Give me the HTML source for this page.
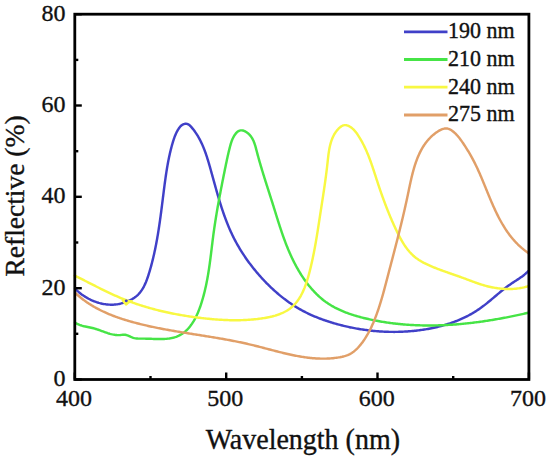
<!DOCTYPE html>
<html><head><meta charset="utf-8"><style>
html,body{margin:0;padding:0;background:#fff;}
body{width:550px;height:458px;position:relative;overflow:hidden;font-family:"Liberation Serif",serif;}
</style></head><body>
<svg width="550" height="458" viewBox="0 0 550 458" style="position:absolute;left:0;top:0">
<path d="M75.13,288.68 L75.96,289.52 L76.81,290.34 L77.68,291.14 L78.58,291.93 L79.50,292.69 L80.44,293.44 L81.40,294.18 L82.38,294.89 L83.37,295.58 L84.39,296.25 L85.42,296.90 L86.47,297.53 L87.53,298.14 L88.60,298.72 L89.69,299.28 L90.80,299.82 L91.91,300.33 L93.03,300.81 L94.17,301.27 L95.31,301.71 L96.46,302.12 L97.62,302.49 L98.79,302.85 L99.96,303.17 L101.14,303.46 L102.32,303.73 L103.51,303.96 L104.70,304.16 L105.89,304.33 L107.08,304.47 L108.27,304.58 L109.47,304.65 L110.66,304.69 L111.84,304.69 L113.03,304.66 L114.21,304.59 L115.39,304.49 L116.56,304.35 L117.73,304.17 L118.88,303.95 L120.04,303.70 L121.18,303.41 L122.32,303.08 L123.45,302.73 L124.58,302.35 L125.71,301.94 L126.83,301.51 L127.95,301.07 L129.06,300.59 L130.16,300.10 L131.24,299.57 L132.30,299.01 L133.33,298.41 L134.32,297.78 L135.28,297.10 L136.19,296.39 L137.06,295.63 L137.90,294.84 L138.70,294.01 L139.47,293.15 L140.20,292.25 L140.90,291.33 L141.57,290.38 L142.22,289.40 L142.83,288.39 L143.42,287.36 L143.98,286.31 L144.52,285.23 L145.04,284.14 L145.53,283.03 L146.01,281.90 L146.46,280.76 L146.90,279.61 L147.32,278.45 L147.73,277.27 L148.13,276.09 L148.51,274.91 L148.89,273.72 L149.25,272.52 L149.61,271.33 L149.96,270.14 L150.30,268.94 L150.64,267.75 L150.97,266.56 L151.29,265.37 L151.61,264.17 L151.92,262.98 L152.22,261.79 L152.52,260.60 L152.82,259.41 L153.11,258.22 L153.39,257.03 L153.67,255.84 L153.94,254.65 L154.21,253.46 L154.47,252.27 L154.72,251.08 L154.98,249.89 L155.22,248.70 L155.47,247.51 L155.71,246.33 L155.94,245.14 L156.17,243.95 L156.39,242.76 L156.62,241.57 L156.83,240.38 L157.05,239.19 L157.26,238.00 L157.46,236.82 L157.67,235.63 L157.87,234.44 L158.06,233.25 L158.26,232.06 L158.45,230.87 L158.63,229.68 L158.82,228.49 L159.00,227.30 L159.18,226.11 L159.35,224.92 L159.53,223.73 L159.70,222.54 L159.87,221.35 L160.04,220.15 L160.20,218.96 L160.37,217.77 L160.53,216.58 L160.69,215.39 L160.85,214.19 L161.01,213.00 L161.16,211.80 L161.32,210.61 L161.47,209.42 L161.63,208.22 L161.78,207.02 L161.93,205.83 L162.08,204.63 L162.23,203.43 L162.38,202.23 L162.53,201.04 L162.68,199.84 L162.83,198.64 L162.98,197.44 L163.13,196.24 L163.28,195.03 L163.43,193.83 L163.59,192.63 L163.74,191.42 L163.89,190.22 L164.04,189.02 L164.20,187.81 L164.35,186.60 L164.51,185.40 L164.67,184.19 L164.83,182.98 L164.99,181.77 L165.16,180.56 L165.33,179.36 L165.50,178.15 L165.67,176.94 L165.84,175.74 L166.02,174.53 L166.20,173.32 L166.39,172.12 L166.58,170.92 L166.77,169.71 L166.97,168.51 L167.17,167.31 L167.38,166.11 L167.59,164.91 L167.80,163.72 L168.02,162.52 L168.25,161.33 L168.48,160.14 L168.72,158.95 L168.96,157.77 L169.21,156.58 L169.46,155.40 L169.72,154.22 L169.99,153.05 L170.27,151.87 L170.55,150.70 L170.84,149.53 L171.14,148.37 L171.44,147.21 L171.75,146.05 L172.07,144.89 L172.40,143.74 L172.74,142.59 L173.08,141.45 L173.44,140.31 L173.81,139.17 L174.20,138.04 L174.60,136.91 L175.04,135.78 L175.50,134.66 L176.00,133.53 L176.54,132.41 L177.12,131.29 L177.74,130.17 L178.42,129.06 L179.14,127.97 L179.94,126.93 L180.79,126.00 L181.72,125.20 L182.72,124.56 L183.77,124.10 L184.85,123.82 L185.93,123.75 L186.99,123.88 L188.02,124.24 L188.98,124.82 L189.90,125.56 L190.77,126.43 L191.61,127.38 L192.42,128.35 L193.21,129.33 L193.97,130.32 L194.71,131.33 L195.42,132.34 L196.12,133.36 L196.79,134.39 L197.44,135.43 L198.07,136.48 L198.69,137.53 L199.28,138.60 L199.86,139.67 L200.41,140.75 L200.95,141.83 L201.48,142.93 L201.99,144.02 L202.48,145.13 L202.96,146.24 L203.43,147.36 L203.88,148.48 L204.33,149.61 L204.76,150.74 L205.17,151.88 L205.58,153.02 L205.98,154.16 L206.37,155.31 L206.75,156.46 L207.13,157.62 L207.49,158.78 L207.85,159.94 L208.20,161.10 L208.55,162.26 L208.90,163.43 L209.24,164.60 L209.57,165.77 L209.91,166.94 L210.24,168.11 L210.57,169.28 L210.90,170.46 L211.22,171.63 L211.55,172.80 L211.88,173.97 L212.20,175.15 L212.53,176.32 L212.85,177.49 L213.17,178.67 L213.50,179.84 L213.82,181.01 L214.14,182.19 L214.47,183.36 L214.79,184.53 L215.12,185.70 L215.44,186.87 L215.77,188.04 L216.10,189.21 L216.43,190.38 L216.76,191.55 L217.10,192.72 L217.43,193.88 L217.77,195.05 L218.11,196.21 L218.45,197.38 L218.80,198.54 L219.14,199.70 L219.49,200.86 L219.85,202.02 L220.21,203.17 L220.57,204.33 L220.93,205.48 L221.30,206.63 L221.67,207.78 L222.04,208.93 L222.42,210.08 L222.81,211.22 L223.20,212.36 L223.59,213.50 L223.99,214.64 L224.39,215.78 L224.80,216.91 L225.22,218.04 L225.64,219.17 L226.06,220.30 L226.49,221.42 L226.93,222.55 L227.38,223.66 L227.83,224.78 L228.28,225.89 L228.75,227.00 L229.22,228.11 L229.70,229.22 L230.18,230.32 L230.67,231.42 L231.17,232.51 L231.68,233.60 L232.20,234.69 L232.72,235.78 L233.25,236.86 L233.80,237.94 L234.34,239.01 L234.90,240.08 L235.47,241.15 L236.04,242.21 L236.62,243.27 L237.21,244.33 L237.81,245.38 L238.41,246.43 L239.03,247.47 L239.65,248.51 L240.27,249.55 L240.91,250.58 L241.55,251.61 L242.20,252.64 L242.86,253.66 L243.53,254.67 L244.20,255.68 L244.88,256.69 L245.56,257.70 L246.25,258.69 L246.95,259.69 L247.66,260.68 L248.37,261.67 L249.09,262.65 L249.82,263.62 L250.55,264.60 L251.29,265.56 L252.04,266.53 L252.79,267.49 L253.55,268.44 L254.31,269.39 L255.08,270.33 L255.86,271.27 L256.64,272.21 L257.43,273.13 L258.22,274.06 L259.02,274.98 L259.83,275.89 L260.64,276.80 L261.46,277.71 L262.28,278.61 L263.11,279.50 L263.94,280.39 L264.78,281.27 L265.62,282.15 L266.47,283.02 L267.32,283.88 L268.18,284.74 L269.05,285.60 L269.92,286.45 L270.79,287.29 L271.67,288.12 L272.56,288.95 L273.45,289.77 L274.35,290.59 L275.25,291.40 L276.16,292.20 L277.08,292.99 L278.00,293.78 L278.92,294.56 L279.85,295.33 L280.79,296.10 L281.73,296.86 L282.68,297.61 L283.63,298.35 L284.59,299.08 L285.56,299.81 L286.53,300.53 L287.50,301.24 L288.48,301.94 L289.47,302.63 L290.46,303.32 L291.46,303.99 L292.46,304.66 L293.47,305.32 L294.49,305.97 L295.51,306.60 L296.53,307.24 L297.56,307.86 L298.60,308.47 L299.64,309.07 L300.69,309.66 L301.75,310.25 L302.81,310.82 L303.87,311.38 L304.94,311.94 L306.02,312.48 L307.10,313.02 L308.19,313.54 L309.28,314.06 L310.37,314.57 L311.47,315.06 L312.58,315.55 L313.69,316.04 L314.80,316.51 L315.92,316.97 L317.04,317.43 L318.17,317.88 L319.29,318.31 L320.43,318.75 L321.56,319.17 L322.70,319.58 L323.85,319.99 L324.99,320.39 L326.14,320.78 L327.29,321.17 L328.45,321.54 L329.61,321.91 L330.77,322.28 L331.93,322.63 L333.09,322.98 L334.26,323.32 L335.43,323.66 L336.60,323.99 L337.77,324.31 L338.95,324.63 L340.12,324.94 L341.30,325.24 L342.48,325.54 L343.66,325.83 L344.84,326.11 L346.03,326.39 L347.21,326.66 L348.40,326.92 L349.58,327.18 L350.77,327.43 L351.96,327.67 L353.15,327.91 L354.35,328.14 L355.54,328.36 L356.74,328.58 L357.93,328.79 L359.13,328.99 L360.33,329.19 L361.53,329.38 L362.73,329.56 L363.93,329.74 L365.13,329.91 L366.33,330.07 L367.53,330.23 L368.74,330.38 L369.94,330.52 L371.15,330.66 L372.36,330.79 L373.56,330.91 L374.77,331.02 L375.98,331.13 L377.19,331.23 L378.39,331.32 L379.60,331.41 L380.81,331.49 L382.02,331.56 L383.23,331.63 L384.44,331.69 L385.66,331.74 L386.87,331.78 L388.08,331.82 L389.29,331.85 L390.50,331.87 L391.71,331.89 L392.92,331.90 L394.13,331.90 L395.35,331.89 L396.56,331.88 L397.77,331.86 L398.98,331.83 L400.19,331.80 L401.40,331.75 L402.61,331.70 L403.82,331.65 L405.03,331.58 L406.24,331.51 L407.45,331.43 L408.66,331.34 L409.86,331.25 L411.07,331.15 L412.28,331.04 L413.48,330.92 L414.69,330.80 L415.89,330.67 L417.10,330.53 L418.30,330.38 L419.50,330.23 L420.71,330.06 L421.91,329.90 L423.11,329.72 L424.30,329.53 L425.50,329.34 L426.70,329.14 L427.89,328.93 L429.08,328.71 L430.28,328.49 L431.47,328.25 L432.65,328.01 L433.84,327.76 L435.02,327.50 L436.20,327.23 L437.38,326.95 L438.56,326.67 L439.73,326.37 L440.90,326.07 L442.07,325.75 L443.23,325.43 L444.40,325.10 L445.55,324.76 L446.71,324.41 L447.86,324.04 L449.01,323.67 L450.15,323.29 L451.30,322.90 L452.43,322.50 L453.57,322.09 L454.70,321.67 L455.82,321.24 L456.94,320.80 L458.06,320.34 L459.17,319.88 L460.28,319.41 L461.38,318.92 L462.48,318.43 L463.57,317.92 L464.66,317.41 L465.74,316.88 L466.81,316.34 L467.89,315.79 L468.95,315.22 L470.01,314.65 L471.07,314.06 L472.11,313.47 L473.16,312.86 L474.19,312.24 L475.22,311.61 L476.25,310.96 L477.26,310.30 L478.27,309.63 L479.28,308.95 L480.27,308.26 L481.27,307.55 L482.25,306.83 L483.23,306.10 L484.20,305.36 L485.16,304.61 L486.12,303.86 L487.08,303.09 L488.03,302.32 L488.98,301.54 L489.93,300.76 L490.87,299.97 L491.81,299.18 L492.75,298.38 L493.69,297.59 L494.63,296.79 L495.57,295.99 L496.50,295.20 L497.44,294.40 L498.38,293.61 L499.32,292.83 L500.26,292.04 L501.20,291.26 L502.15,290.49 L503.10,289.73 L504.05,288.97 L505.01,288.22 L505.97,287.48 L506.94,286.75 L507.91,286.03 L508.89,285.32 L509.87,284.63 L510.86,283.95 L511.86,283.28 L512.86,282.62 L513.86,281.97 L514.87,281.32 L515.88,280.67 L516.88,280.02 L517.88,279.36 L518.88,278.70 L519.87,278.02 L520.86,277.33 L521.84,276.63 L522.81,275.91 L523.77,275.16 L524.72,274.40 L525.65,273.60 L526.57,272.78 L527.48,271.92 L528.36,271.03" fill="none" stroke="#4040c8" stroke-width="2.45" stroke-linejoin="round" stroke-linecap="round"/>
<path d="M75.05,322.53 L76.16,323.23 L77.28,323.85 L78.41,324.39 L79.55,324.87 L80.69,325.28 L81.84,325.65 L83.00,325.97 L84.16,326.26 L85.33,326.52 L86.50,326.77 L87.67,327.00 L88.85,327.23 L90.03,327.47 L91.21,327.72 L92.39,327.99 L93.56,328.29 L94.74,328.63 L95.92,328.99 L97.09,329.37 L98.27,329.77 L99.45,330.18 L100.62,330.61 L101.79,331.04 L102.97,331.46 L104.14,331.89 L105.31,332.31 L106.48,332.71 L107.65,333.10 L108.83,333.46 L110.00,333.81 L111.17,334.12 L112.34,334.39 L113.51,334.63 L114.68,334.83 L115.85,334.98 L117.02,335.07 L118.19,335.11 L119.36,335.10 L120.53,335.01 L121.70,334.88 L122.87,334.76 L124.03,334.72 L125.18,334.82 L126.33,335.07 L127.48,335.44 L128.64,335.91 L129.80,336.42 L130.95,336.94 L132.10,337.42 L133.24,337.82 L134.37,338.13 L135.50,338.35 L136.63,338.49 L137.76,338.58 L138.89,338.63 L140.04,338.64 L141.20,338.64 L142.37,338.63 L143.57,338.63 L144.79,338.65 L146.02,338.68 L147.27,338.71 L148.54,338.75 L149.81,338.80 L151.10,338.84 L152.40,338.89 L153.70,338.93 L155.01,338.97 L156.32,339.00 L157.64,339.03 L158.95,339.04 L160.26,339.04 L161.56,339.02 L162.86,338.98 L164.16,338.93 L165.44,338.85 L166.71,338.75 L167.96,338.62 L169.20,338.46 L170.43,338.27 L171.63,338.05 L172.81,337.80 L173.97,337.50 L175.10,337.17 L176.21,336.80 L177.29,336.38 L178.34,335.92 L179.37,335.42 L180.37,334.89 L181.35,334.31 L182.30,333.70 L183.22,333.05 L184.12,332.37 L185.00,331.65 L185.85,330.91 L186.68,330.13 L187.49,329.32 L188.27,328.48 L189.03,327.61 L189.78,326.72 L190.50,325.80 L191.20,324.85 L191.88,323.89 L192.54,322.89 L193.18,321.88 L193.81,320.85 L194.41,319.80 L195.00,318.72 L195.57,317.64 L196.12,316.53 L196.66,315.41 L197.18,314.28 L197.69,313.13 L198.18,311.97 L198.66,310.80 L199.12,309.63 L199.57,308.44 L200.00,307.24 L200.42,306.04 L200.83,304.83 L201.23,303.62 L201.62,302.41 L201.99,301.19 L202.36,299.97 L202.71,298.76 L203.05,297.54 L203.39,296.32 L203.72,295.11 L204.03,293.90 L204.34,292.69 L204.64,291.48 L204.93,290.27 L205.22,289.06 L205.49,287.85 L205.76,286.65 L206.02,285.44 L206.27,284.24 L206.52,283.04 L206.76,281.83 L206.99,280.63 L207.22,279.43 L207.44,278.23 L207.65,277.03 L207.86,275.84 L208.07,274.64 L208.27,273.44 L208.46,272.25 L208.65,271.05 L208.84,269.85 L209.02,268.66 L209.19,267.46 L209.37,266.27 L209.54,265.07 L209.71,263.88 L209.87,262.69 L210.03,261.49 L210.19,260.30 L210.34,259.10 L210.50,257.91 L210.65,256.72 L210.80,255.52 L210.95,254.33 L211.10,253.13 L211.24,251.94 L211.39,250.74 L211.54,249.55 L211.68,248.35 L211.83,247.16 L211.97,245.96 L212.12,244.76 L212.27,243.56 L212.41,242.37 L212.56,241.17 L212.71,239.97 L212.86,238.77 L213.02,237.56 L213.17,236.36 L213.33,235.16 L213.49,233.96 L213.65,232.75 L213.82,231.54 L213.99,230.34 L214.16,229.13 L214.33,227.92 L214.51,226.71 L214.69,225.50 L214.87,224.29 L215.06,223.08 L215.24,221.87 L215.43,220.65 L215.62,219.44 L215.82,218.23 L216.01,217.01 L216.21,215.80 L216.41,214.58 L216.61,213.37 L216.82,212.15 L217.02,210.94 L217.23,209.72 L217.44,208.51 L217.65,207.29 L217.87,206.07 L218.08,204.86 L218.30,203.64 L218.52,202.43 L218.74,201.21 L218.96,199.99 L219.19,198.78 L219.41,197.56 L219.64,196.35 L219.86,195.14 L220.09,193.92 L220.32,192.71 L220.55,191.50 L220.79,190.28 L221.02,189.07 L221.25,187.86 L221.49,186.65 L221.72,185.44 L221.96,184.23 L222.20,183.02 L222.44,181.82 L222.68,180.61 L222.92,179.41 L223.16,178.20 L223.40,177.00 L223.64,175.80 L223.88,174.60 L224.12,173.40 L224.37,172.20 L224.61,171.00 L224.85,169.80 L225.09,168.61 L225.34,167.42 L225.58,166.23 L225.83,165.04 L226.07,163.85 L226.32,162.66 L226.57,161.48 L226.82,160.29 L227.07,159.11 L227.32,157.93 L227.58,156.75 L227.85,155.58 L228.11,154.41 L228.38,153.23 L228.66,152.06 L228.94,150.90 L229.22,149.73 L229.52,148.57 L229.81,147.41 L230.12,146.25 L230.43,145.10 L230.76,143.94 L231.11,142.79 L231.49,141.64 L231.91,140.50 L232.37,139.35 L232.90,138.21 L233.48,137.06 L234.13,135.92 L234.87,134.78 L235.68,133.66 L236.57,132.63 L237.53,131.74 L238.54,131.05 L239.59,130.60 L240.68,130.39 L241.79,130.37 L242.91,130.54 L244.02,130.88 L245.12,131.36 L246.19,131.96 L247.22,132.67 L248.20,133.46 L249.11,134.31 L249.95,135.21 L250.72,136.15 L251.42,137.13 L252.07,138.14 L252.65,139.19 L253.19,140.26 L253.69,141.37 L254.14,142.49 L254.56,143.64 L254.94,144.80 L255.30,145.97 L255.65,147.16 L255.97,148.36 L256.29,149.56 L256.61,150.77 L256.92,151.97 L257.24,153.17 L257.56,154.38 L257.88,155.57 L258.21,156.77 L258.54,157.97 L258.87,159.16 L259.21,160.35 L259.55,161.54 L259.89,162.73 L260.23,163.92 L260.58,165.10 L260.93,166.29 L261.28,167.47 L261.63,168.65 L261.98,169.83 L262.34,171.01 L262.70,172.18 L263.06,173.36 L263.42,174.53 L263.79,175.71 L264.15,176.88 L264.52,178.05 L264.88,179.22 L265.25,180.39 L265.62,181.56 L265.99,182.73 L266.36,183.89 L266.73,185.06 L267.10,186.22 L267.48,187.39 L267.85,188.55 L268.22,189.71 L268.59,190.88 L268.97,192.04 L269.34,193.20 L269.71,194.36 L270.08,195.52 L270.45,196.68 L270.82,197.84 L271.19,199.00 L271.56,200.16 L271.93,201.32 L272.29,202.48 L272.66,203.64 L273.02,204.80 L273.39,205.96 L273.75,207.12 L274.11,208.28 L274.47,209.44 L274.83,210.60 L275.19,211.76 L275.55,212.92 L275.91,214.08 L276.27,215.24 L276.63,216.40 L276.99,217.55 L277.35,218.71 L277.72,219.87 L278.08,221.02 L278.45,222.18 L278.82,223.33 L279.19,224.49 L279.56,225.64 L279.94,226.79 L280.32,227.94 L280.70,229.09 L281.08,230.24 L281.47,231.39 L281.86,232.54 L282.26,233.68 L282.65,234.83 L283.06,235.97 L283.46,237.12 L283.87,238.26 L284.29,239.40 L284.71,240.54 L285.14,241.67 L285.57,242.81 L286.00,243.94 L286.44,245.07 L286.89,246.21 L287.35,247.33 L287.81,248.46 L288.27,249.59 L288.75,250.71 L289.23,251.83 L289.72,252.95 L290.21,254.07 L290.71,255.19 L291.22,256.30 L291.74,257.41 L292.27,258.52 L292.80,259.63 L293.34,260.74 L293.90,261.84 L294.46,262.94 L295.03,264.04 L295.60,265.13 L296.19,266.22 L296.79,267.31 L297.39,268.40 L298.01,269.48 L298.63,270.55 L299.27,271.62 L299.91,272.69 L300.56,273.75 L301.23,274.80 L301.90,275.85 L302.58,276.89 L303.27,277.92 L303.97,278.94 L304.68,279.96 L305.40,280.97 L306.13,281.97 L306.87,282.97 L307.62,283.95 L308.38,284.92 L309.15,285.89 L309.93,286.84 L310.72,287.79 L311.52,288.72 L312.33,289.64 L313.15,290.55 L313.99,291.45 L314.83,292.33 L315.68,293.21 L316.54,294.07 L317.41,294.91 L318.30,295.75 L319.19,296.57 L320.10,297.37 L321.01,298.16 L321.94,298.94 L322.88,299.70 L323.82,300.45 L324.78,301.17 L325.75,301.89 L326.73,302.58 L327.72,303.26 L328.73,303.93 L329.74,304.57 L330.76,305.20 L331.79,305.82 L332.84,306.42 L333.89,307.00 L334.95,307.58 L336.02,308.13 L337.09,308.67 L338.18,309.20 L339.27,309.72 L340.37,310.22 L341.48,310.71 L342.60,311.18 L343.72,311.65 L344.85,312.10 L345.98,312.54 L347.12,312.97 L348.27,313.39 L349.42,313.79 L350.58,314.19 L351.74,314.58 L352.90,314.95 L354.07,315.32 L355.25,315.68 L356.43,316.02 L357.61,316.36 L358.79,316.69 L359.98,317.02 L361.17,317.33 L362.36,317.64 L363.55,317.94 L364.75,318.23 L365.95,318.52 L367.15,318.80 L368.35,319.07 L369.55,319.34 L370.75,319.60 L371.95,319.85 L373.16,320.10 L374.36,320.34 L375.57,320.58 L376.77,320.81 L377.98,321.03 L379.19,321.25 L380.40,321.46 L381.61,321.67 L382.82,321.87 L384.03,322.06 L385.24,322.25 L386.45,322.44 L387.67,322.61 L388.88,322.79 L390.10,322.95 L391.31,323.11 L392.53,323.27 L393.74,323.42 L394.96,323.56 L396.18,323.70 L397.39,323.83 L398.61,323.96 L399.83,324.08 L401.05,324.20 L402.27,324.31 L403.49,324.41 L404.70,324.51 L405.92,324.61 L407.14,324.70 L408.36,324.78 L409.58,324.86 L410.80,324.94 L412.02,325.01 L413.24,325.07 L414.46,325.13 L415.68,325.19 L416.90,325.24 L418.12,325.28 L419.34,325.32 L420.56,325.36 L421.78,325.39 L423.00,325.41 L424.22,325.43 L425.44,325.45 L426.67,325.46 L427.89,325.47 L429.11,325.47 L430.33,325.47 L431.55,325.46 L432.77,325.45 L433.99,325.43 L435.21,325.41 L436.43,325.39 L437.65,325.36 L438.87,325.32 L440.08,325.29 L441.30,325.24 L442.52,325.20 L443.74,325.15 L444.96,325.09 L446.18,325.03 L447.40,324.97 L448.62,324.90 L449.84,324.83 L451.06,324.75 L452.27,324.67 L453.49,324.59 L454.71,324.50 L455.93,324.41 L457.14,324.31 L458.36,324.21 L459.58,324.11 L460.79,324.00 L462.01,323.89 L463.23,323.77 L464.44,323.65 L465.66,323.53 L466.87,323.40 L468.09,323.27 L469.30,323.14 L470.52,323.00 L471.73,322.86 L472.95,322.71 L474.16,322.57 L475.37,322.41 L476.59,322.26 L477.80,322.10 L479.01,321.94 L480.22,321.77 L481.44,321.60 L482.65,321.43 L483.86,321.26 L485.07,321.08 L486.28,320.90 L487.49,320.71 L488.70,320.52 L489.91,320.33 L491.11,320.14 L492.32,319.94 L493.53,319.74 L494.74,319.54 L495.94,319.33 L497.15,319.12 L498.36,318.91 L499.56,318.69 L500.77,318.48 L501.97,318.25 L503.17,318.03 L504.38,317.80 L505.58,317.58 L506.78,317.34 L507.98,317.11 L509.18,316.87 L510.38,316.63 L511.59,316.39 L512.78,316.14 L513.98,315.90 L515.18,315.65 L516.38,315.39 L517.58,315.14 L518.77,314.88 L519.97,314.62 L521.16,314.36 L522.36,314.10 L523.55,313.83 L524.75,313.56 L525.94,313.29 L527.13,313.02 L528.32,312.74" fill="none" stroke="#46e446" stroke-width="2.45" stroke-linejoin="round" stroke-linecap="round"/>
<path d="M74.64,275.68 L75.67,276.17 L76.70,276.67 L77.73,277.17 L78.75,277.67 L79.78,278.18 L80.81,278.69 L81.84,279.20 L82.87,279.71 L83.89,280.22 L84.92,280.74 L85.95,281.26 L86.98,281.78 L88.01,282.30 L89.03,282.82 L90.06,283.34 L91.09,283.86 L92.12,284.38 L93.15,284.91 L94.18,285.43 L95.22,285.95 L96.25,286.47 L97.28,286.99 L98.32,287.51 L99.35,288.03 L100.39,288.55 L101.42,289.06 L102.46,289.58 L103.50,290.09 L104.54,290.60 L105.58,291.10 L106.63,291.61 L107.67,292.11 L108.72,292.61 L109.77,293.10 L110.82,293.60 L111.87,294.08 L112.92,294.57 L113.97,295.05 L115.03,295.52 L116.09,295.99 L117.15,296.46 L118.21,296.92 L119.27,297.38 L120.34,297.83 L121.41,298.28 L122.48,298.72 L123.55,299.15 L124.63,299.58 L125.70,300.01 L126.78,300.43 L127.86,300.84 L128.95,301.25 L130.03,301.65 L131.12,302.05 L132.20,302.44 L133.29,302.83 L134.39,303.22 L135.48,303.60 L136.57,303.97 L137.67,304.34 L138.77,304.70 L139.87,305.06 L140.97,305.41 L142.08,305.76 L143.18,306.11 L144.29,306.45 L145.40,306.78 L146.51,307.11 L147.62,307.44 L148.73,307.76 L149.84,308.07 L150.96,308.39 L152.08,308.69 L153.19,308.99 L154.31,309.29 L155.43,309.59 L156.56,309.87 L157.68,310.16 L158.80,310.44 L159.93,310.71 L161.05,310.99 L162.18,311.25 L163.31,311.52 L164.44,311.77 L165.57,312.03 L166.70,312.28 L167.84,312.52 L168.97,312.77 L170.10,313.00 L171.24,313.24 L172.38,313.47 L173.51,313.69 L174.65,313.91 L175.79,314.13 L176.93,314.35 L178.07,314.55 L179.21,314.76 L180.35,314.96 L181.49,315.16 L182.64,315.35 L183.78,315.55 L184.92,315.73 L186.07,315.91 L187.21,316.09 L188.36,316.27 L189.50,316.44 L190.65,316.61 L191.80,316.77 L192.94,316.94 L194.09,317.09 L195.24,317.25 L196.39,317.40 L197.53,317.55 L198.68,317.69 L199.83,317.83 L200.98,317.97 L202.13,318.10 L203.28,318.23 L204.43,318.36 L205.58,318.48 L206.72,318.61 L207.87,318.72 L209.02,318.84 L210.17,318.95 L211.32,319.05 L212.47,319.16 L213.62,319.26 L214.77,319.35 L215.92,319.44 L217.07,319.53 L218.22,319.61 L219.38,319.69 L220.53,319.76 L221.68,319.83 L222.83,319.89 L223.99,319.95 L225.14,320.00 L226.30,320.05 L227.45,320.09 L228.61,320.13 L229.77,320.16 L230.92,320.19 L232.08,320.21 L233.24,320.22 L234.40,320.23 L235.56,320.23 L236.73,320.23 L237.89,320.22 L239.05,320.20 L240.22,320.18 L241.38,320.15 L242.55,320.11 L243.72,320.06 L244.89,320.01 L246.06,319.96 L247.23,319.89 L248.40,319.82 L249.58,319.74 L250.75,319.65 L251.93,319.56 L253.11,319.45 L254.29,319.34 L255.47,319.22 L256.65,319.10 L257.83,318.96 L259.02,318.82 L260.21,318.66 L261.39,318.50 L262.57,318.33 L263.76,318.14 L264.94,317.95 L266.11,317.74 L267.28,317.52 L268.45,317.28 L269.61,317.04 L270.76,316.77 L271.91,316.50 L273.05,316.20 L274.18,315.89 L275.30,315.57 L276.41,315.22 L277.50,314.86 L278.59,314.48 L279.66,314.08 L280.72,313.66 L281.77,313.22 L282.80,312.76 L283.81,312.28 L284.80,311.78 L285.78,311.25 L286.74,310.70 L287.69,310.12 L288.61,309.52 L289.51,308.90 L290.39,308.25 L291.24,307.57 L292.08,306.87 L292.89,306.14 L293.68,305.38 L294.44,304.60 L295.18,303.79 L295.90,302.96 L296.60,302.10 L297.27,301.23 L297.93,300.33 L298.57,299.40 L299.19,298.46 L299.78,297.50 L300.36,296.52 L300.93,295.52 L301.47,294.51 L302.00,293.48 L302.51,292.44 L303.01,291.38 L303.49,290.30 L303.95,289.22 L304.41,288.12 L304.84,287.01 L305.27,285.89 L305.68,284.76 L306.08,283.63 L306.47,282.48 L306.85,281.33 L307.21,280.18 L307.57,279.01 L307.92,277.85 L308.26,276.68 L308.58,275.50 L308.91,274.33 L309.22,273.15 L309.53,271.98 L309.83,270.80 L310.12,269.63 L310.41,268.46 L310.69,267.29 L310.97,266.12 L311.24,264.96 L311.51,263.80 L311.78,262.64 L312.03,261.48 L312.29,260.32 L312.54,259.17 L312.78,258.01 L313.02,256.86 L313.26,255.71 L313.49,254.57 L313.72,253.42 L313.95,252.28 L314.17,251.13 L314.39,249.99 L314.60,248.85 L314.82,247.71 L315.03,246.58 L315.23,245.44 L315.43,244.30 L315.63,243.17 L315.83,242.04 L316.03,240.90 L316.22,239.77 L316.41,238.64 L316.60,237.51 L316.79,236.38 L316.97,235.26 L317.15,234.13 L317.34,233.00 L317.52,231.87 L317.69,230.75 L317.87,229.62 L318.05,228.49 L318.22,227.37 L318.40,226.24 L318.57,225.12 L318.75,223.99 L318.92,222.87 L319.09,221.74 L319.26,220.62 L319.44,219.49 L319.61,218.36 L319.78,217.24 L319.95,216.11 L320.13,214.98 L320.30,213.86 L320.47,212.73 L320.65,211.60 L320.82,210.47 L321.00,209.34 L321.18,208.21 L321.35,207.08 L321.53,205.94 L321.71,204.81 L321.88,203.68 L322.06,202.54 L322.23,201.40 L322.41,200.27 L322.59,199.13 L322.76,197.99 L322.94,196.85 L323.11,195.70 L323.28,194.56 L323.46,193.42 L323.63,192.27 L323.80,191.12 L323.97,189.97 L324.14,188.82 L324.31,187.67 L324.48,186.51 L324.65,185.36 L324.81,184.20 L324.98,183.04 L325.14,181.88 L325.30,180.72 L325.46,179.55 L325.62,178.39 L325.78,177.22 L325.93,176.05 L326.08,174.87 L326.24,173.70 L326.38,172.52 L326.53,171.34 L326.68,170.16 L326.82,168.97 L326.96,167.79 L327.10,166.60 L327.23,165.40 L327.37,164.21 L327.50,163.01 L327.63,161.81 L327.76,160.61 L327.89,159.41 L328.03,158.22 L328.16,157.02 L328.31,155.82 L328.46,154.63 L328.62,153.44 L328.79,152.26 L328.98,151.08 L329.17,149.91 L329.38,148.75 L329.61,147.60 L329.85,146.45 L330.12,145.32 L330.40,144.19 L330.70,143.08 L331.03,141.98 L331.38,140.90 L331.76,139.82 L332.16,138.77 L332.60,137.73 L333.06,136.70 L333.55,135.70 L334.08,134.71 L334.65,133.74 L335.24,132.80 L335.88,131.87 L336.55,130.97 L337.27,130.09 L338.02,129.23 L338.82,128.40 L339.67,127.60 L340.55,126.87 L341.48,126.23 L342.45,125.71 L343.46,125.33 L344.51,125.13 L345.60,125.13 L346.72,125.32 L347.85,125.68 L348.95,126.16 L350.00,126.73 L351.00,127.38 L351.94,128.09 L352.84,128.85 L353.69,129.67 L354.51,130.53 L355.28,131.44 L356.02,132.37 L356.73,133.33 L357.42,134.31 L358.08,135.31 L358.73,136.31 L359.36,137.32 L359.98,138.34 L360.58,139.35 L361.17,140.37 L361.75,141.40 L362.31,142.43 L362.86,143.47 L363.39,144.50 L363.92,145.55 L364.43,146.59 L364.93,147.64 L365.42,148.69 L365.91,149.75 L366.38,150.80 L366.84,151.87 L367.29,152.93 L367.74,154.00 L368.17,155.07 L368.60,156.14 L369.02,157.21 L369.43,158.29 L369.84,159.37 L370.24,160.45 L370.63,161.53 L371.02,162.62 L371.41,163.71 L371.78,164.80 L372.16,165.89 L372.53,166.98 L372.90,168.07 L373.26,169.16 L373.63,170.26 L373.99,171.35 L374.34,172.45 L374.70,173.55 L375.06,174.64 L375.41,175.74 L375.77,176.84 L376.12,177.94 L376.48,179.04 L376.84,180.14 L377.20,181.24 L377.56,182.34 L377.92,183.43 L378.29,184.53 L378.65,185.63 L379.02,186.73 L379.39,187.82 L379.77,188.92 L380.14,190.02 L380.52,191.11 L380.90,192.21 L381.29,193.30 L381.67,194.39 L382.06,195.49 L382.45,196.58 L382.84,197.67 L383.24,198.76 L383.64,199.85 L384.04,200.94 L384.45,202.03 L384.86,203.12 L385.27,204.21 L385.68,205.30 L386.10,206.38 L386.52,207.47 L386.95,208.55 L387.37,209.63 L387.80,210.72 L388.24,211.80 L388.68,212.88 L389.12,213.96 L389.56,215.03 L390.01,216.11 L390.46,217.19 L390.92,218.26 L391.38,219.33 L391.84,220.40 L392.31,221.47 L392.78,222.54 L393.26,223.61 L393.74,224.68 L394.22,225.74 L394.71,226.81 L395.21,227.87 L395.70,228.93 L396.21,229.99 L396.71,231.05 L397.22,232.10 L397.74,233.16 L398.26,234.20 L398.79,235.25 L399.33,236.29 L399.87,237.33 L400.42,238.36 L400.99,239.38 L401.56,240.39 L402.14,241.40 L402.73,242.39 L403.34,243.38 L403.96,244.36 L404.59,245.32 L405.23,246.27 L405.89,247.21 L406.57,248.14 L407.25,249.05 L407.96,249.95 L408.68,250.83 L409.42,251.70 L410.18,252.54 L410.96,253.37 L411.75,254.19 L412.57,254.98 L413.41,255.75 L414.27,256.50 L415.15,257.23 L416.05,257.94 L416.97,258.62 L417.92,259.29 L418.88,259.94 L419.86,260.56 L420.86,261.17 L421.88,261.76 L422.90,262.33 L423.94,262.89 L425.00,263.43 L426.06,263.96 L427.13,264.47 L428.21,264.97 L429.29,265.46 L430.39,265.94 L431.48,266.40 L432.58,266.86 L433.68,267.31 L434.78,267.75 L435.88,268.18 L436.98,268.61 L438.08,269.03 L439.17,269.44 L440.27,269.85 L441.36,270.25 L442.45,270.65 L443.55,271.05 L444.64,271.44 L445.72,271.82 L446.81,272.21 L447.90,272.59 L448.98,272.97 L450.07,273.35 L451.15,273.73 L452.24,274.10 L453.32,274.48 L454.40,274.86 L455.48,275.23 L456.56,275.61 L457.64,275.99 L458.72,276.37 L459.80,276.75 L460.87,277.14 L461.95,277.53 L463.03,277.92 L464.11,278.31 L465.18,278.71 L466.26,279.12 L467.33,279.53 L468.41,279.94 L469.49,280.35 L470.57,280.76 L471.65,281.16 L472.73,281.57 L473.81,281.97 L474.90,282.37 L475.99,282.77 L477.08,283.15 L478.18,283.53 L479.28,283.90 L480.38,284.26 L481.49,284.61 L482.61,284.95 L483.73,285.28 L484.85,285.59 L485.98,285.90 L487.11,286.19 L488.24,286.47 L489.37,286.73 L490.51,286.99 L491.66,287.23 L492.80,287.45 L493.95,287.67 L495.10,287.87 L496.25,288.05 L497.40,288.22 L498.55,288.37 L499.71,288.51 L500.86,288.63 L502.02,288.74 L503.18,288.83 L504.34,288.91 L505.50,288.96 L506.65,289.00 L507.81,289.02 L508.97,289.03 L510.13,289.02 L511.28,288.99 L512.44,288.93 L513.59,288.87 L514.75,288.78 L515.90,288.67 L517.05,288.54 L518.20,288.39 L519.34,288.23 L520.48,288.04 L521.62,287.83 L522.76,287.60 L523.90,287.35 L525.03,287.07 L526.15,286.77 L527.28,286.46 L528.40,286.11" fill="none" stroke="#f8f842" stroke-width="2.45" stroke-linejoin="round" stroke-linecap="round"/>
<path d="M75.22,292.92 L76.09,293.72 L76.96,294.51 L77.84,295.29 L78.73,296.05 L79.63,296.81 L80.53,297.55 L81.45,298.28 L82.37,298.99 L83.29,299.70 L84.22,300.39 L85.16,301.07 L86.11,301.74 L87.06,302.40 L88.02,303.04 L88.99,303.68 L89.96,304.30 L90.94,304.91 L91.92,305.52 L92.91,306.11 L93.90,306.69 L94.90,307.26 L95.91,307.82 L96.92,308.38 L97.94,308.92 L98.96,309.45 L99.98,309.97 L101.01,310.49 L102.05,310.99 L103.09,311.49 L104.13,311.97 L105.18,312.45 L106.23,312.92 L107.29,313.38 L108.35,313.84 L109.42,314.28 L110.49,314.72 L111.56,315.15 L112.63,315.57 L113.71,315.98 L114.79,316.39 L115.88,316.79 L116.96,317.18 L118.05,317.57 L119.15,317.95 L120.24,318.32 L121.34,318.69 L122.44,319.05 L123.55,319.40 L124.65,319.75 L125.76,320.09 L126.87,320.43 L127.98,320.76 L129.09,321.08 L130.20,321.40 L131.32,321.72 L132.43,322.03 L133.55,322.34 L134.67,322.64 L135.79,322.93 L136.91,323.23 L138.03,323.52 L139.15,323.80 L140.27,324.08 L141.39,324.36 L142.51,324.63 L143.64,324.90 L144.76,325.16 L145.89,325.42 L147.01,325.68 L148.14,325.94 L149.27,326.19 L150.39,326.43 L151.52,326.68 L152.65,326.92 L153.78,327.16 L154.91,327.39 L156.04,327.63 L157.17,327.85 L158.30,328.08 L159.43,328.31 L160.57,328.53 L161.70,328.75 L162.83,328.96 L163.96,329.18 L165.10,329.39 L166.23,329.60 L167.37,329.80 L168.50,330.01 L169.64,330.21 L170.77,330.42 L171.91,330.62 L173.05,330.81 L174.18,331.01 L175.32,331.20 L176.46,331.40 L177.60,331.59 L178.74,331.78 L179.87,331.97 L181.01,332.16 L182.15,332.35 L183.29,332.53 L184.43,332.72 L185.57,332.90 L186.71,333.08 L187.85,333.27 L188.99,333.45 L190.13,333.63 L191.27,333.81 L192.41,333.99 L193.55,334.17 L194.69,334.36 L195.83,334.54 L196.98,334.72 L198.12,334.90 L199.26,335.08 L200.40,335.26 L201.54,335.44 L202.68,335.62 L203.82,335.80 L204.96,335.98 L206.11,336.17 L207.25,336.35 L208.39,336.53 L209.53,336.72 L210.67,336.90 L211.81,337.09 L212.95,337.28 L214.09,337.47 L215.24,337.66 L216.38,337.85 L217.52,338.04 L218.66,338.24 L219.80,338.43 L220.94,338.63 L222.08,338.83 L223.22,339.03 L224.36,339.24 L225.50,339.44 L226.64,339.65 L227.78,339.86 L228.91,340.07 L230.05,340.28 L231.19,340.50 L232.33,340.71 L233.47,340.94 L234.60,341.16 L235.74,341.38 L236.88,341.61 L238.01,341.84 L239.15,342.08 L240.29,342.32 L241.42,342.56 L242.56,342.80 L243.69,343.05 L244.82,343.30 L245.96,343.55 L247.09,343.81 L248.22,344.07 L249.36,344.33 L250.49,344.60 L251.62,344.87 L252.75,345.15 L253.88,345.42 L255.01,345.70 L256.14,345.99 L257.27,346.27 L258.40,346.56 L259.53,346.85 L260.66,347.14 L261.78,347.44 L262.91,347.73 L264.04,348.03 L265.17,348.32 L266.29,348.62 L267.42,348.91 L268.55,349.21 L269.67,349.51 L270.80,349.80 L271.92,350.10 L273.05,350.39 L274.18,350.68 L275.30,350.98 L276.43,351.26 L277.55,351.55 L278.68,351.84 L279.80,352.12 L280.93,352.40 L282.06,352.68 L283.18,352.95 L284.31,353.22 L285.43,353.49 L286.56,353.75 L287.69,354.01 L288.81,354.26 L289.94,354.51 L291.07,354.76 L292.19,355.00 L293.32,355.23 L294.45,355.46 L295.57,355.68 L296.70,355.90 L297.83,356.11 L298.96,356.32 L300.09,356.51 L301.22,356.70 L302.35,356.88 L303.48,357.06 L304.61,357.23 L305.74,357.39 L306.87,357.54 L308.00,357.68 L309.13,357.81 L310.27,357.94 L311.40,358.05 L312.53,358.16 L313.67,358.25 L314.80,358.34 L315.94,358.42 L317.08,358.48 L318.21,358.54 L319.35,358.58 L320.49,358.61 L321.63,358.63 L322.77,358.64 L323.91,358.64 L325.05,358.63 L326.19,358.60 L327.33,358.56 L328.48,358.51 L329.62,358.44 L330.77,358.36 L331.91,358.27 L333.06,358.16 L334.21,358.04 L335.36,357.90 L336.51,357.75 L337.66,357.59 L338.81,357.41 L339.96,357.21 L341.10,356.98 L342.24,356.74 L343.36,356.46 L344.48,356.16 L345.58,355.82 L346.67,355.45 L347.73,355.04 L348.78,354.59 L349.81,354.09 L350.81,353.55 L351.78,352.96 L352.73,352.33 L353.65,351.65 L354.55,350.94 L355.43,350.19 L356.28,349.41 L357.11,348.60 L357.92,347.76 L358.70,346.91 L359.47,346.03 L360.22,345.14 L360.95,344.24 L361.67,343.32 L362.36,342.40 L363.04,341.47 L363.71,340.53 L364.35,339.59 L364.99,338.63 L365.61,337.67 L366.21,336.70 L366.80,335.73 L367.38,334.74 L367.94,333.75 L368.49,332.75 L369.03,331.74 L369.56,330.73 L370.08,329.71 L370.58,328.69 L371.08,327.66 L371.57,326.62 L372.04,325.58 L372.51,324.54 L372.97,323.48 L373.43,322.43 L373.87,321.36 L374.31,320.30 L374.74,319.23 L375.16,318.15 L375.58,317.07 L375.99,315.99 L376.40,314.90 L376.80,313.81 L377.19,312.71 L377.57,311.61 L377.96,310.51 L378.33,309.40 L378.70,308.30 L379.07,307.19 L379.43,306.07 L379.78,304.96 L380.13,303.84 L380.48,302.72 L380.82,301.60 L381.16,300.47 L381.49,299.35 L381.82,298.22 L382.15,297.09 L382.47,295.96 L382.80,294.83 L383.11,293.70 L383.43,292.57 L383.74,291.44 L384.05,290.31 L384.36,289.17 L384.66,288.04 L384.96,286.91 L385.26,285.77 L385.56,284.64 L385.86,283.51 L386.16,282.38 L386.45,281.25 L386.75,280.12 L387.04,279.00 L387.34,277.87 L387.63,276.75 L387.92,275.62 L388.22,274.50 L388.51,273.38 L388.80,272.27 L389.09,271.15 L389.39,270.04 L389.68,268.92 L389.97,267.81 L390.26,266.70 L390.55,265.59 L390.84,264.49 L391.13,263.38 L391.42,262.27 L391.71,261.17 L392.00,260.07 L392.29,258.96 L392.58,257.86 L392.86,256.76 L393.15,255.66 L393.44,254.56 L393.73,253.46 L394.01,252.36 L394.30,251.26 L394.58,250.16 L394.87,249.06 L395.15,247.97 L395.44,246.87 L395.72,245.77 L396.00,244.67 L396.28,243.57 L396.57,242.48 L396.85,241.38 L397.13,240.28 L397.41,239.18 L397.69,238.08 L397.97,236.98 L398.24,235.88 L398.52,234.78 L398.80,233.68 L399.07,232.58 L399.35,231.47 L399.62,230.37 L399.90,229.27 L400.17,228.16 L400.44,227.05 L400.71,225.95 L400.98,224.84 L401.25,223.73 L401.52,222.62 L401.79,221.50 L402.06,220.39 L402.33,219.27 L402.59,218.16 L402.86,217.04 L403.12,215.92 L403.38,214.80 L403.65,213.67 L403.91,212.55 L404.17,211.42 L404.43,210.29 L404.69,209.16 L404.94,208.02 L405.20,206.89 L405.46,205.75 L405.71,204.61 L405.96,203.46 L406.22,202.32 L406.47,201.17 L406.72,200.02 L406.97,198.87 L407.22,197.71 L407.46,196.55 L407.71,195.39 L407.95,194.23 L408.20,193.06 L408.44,191.89 L408.69,190.72 L408.93,189.55 L409.18,188.37 L409.42,187.20 L409.67,186.02 L409.92,184.85 L410.17,183.67 L410.43,182.50 L410.69,181.33 L410.95,180.15 L411.22,178.98 L411.49,177.82 L411.77,176.65 L412.05,175.49 L412.34,174.33 L412.64,173.17 L412.94,172.02 L413.25,170.87 L413.56,169.73 L413.89,168.59 L414.22,167.46 L414.56,166.33 L414.91,165.21 L415.27,164.10 L415.64,162.99 L416.02,161.89 L416.42,160.80 L416.82,159.71 L417.23,158.63 L417.66,157.56 L418.10,156.50 L418.55,155.45 L419.02,154.41 L419.50,153.38 L419.99,152.36 L420.50,151.35 L421.02,150.35 L421.56,149.37 L422.12,148.39 L422.69,147.43 L423.27,146.48 L423.88,145.54 L424.50,144.61 L425.14,143.70 L425.80,142.81 L426.48,141.92 L427.17,141.06 L427.89,140.20 L428.62,139.36 L429.38,138.54 L430.16,137.74 L430.96,136.95 L431.78,136.17 L432.62,135.42 L433.48,134.68 L434.37,133.96 L435.28,133.26 L436.21,132.58 L437.17,131.91 L438.16,131.27 L439.16,130.66 L440.18,130.10 L441.22,129.60 L442.27,129.17 L443.32,128.83 L444.39,128.59 L445.45,128.46 L446.52,128.45 L447.58,128.58 L448.64,128.86 L449.69,129.28 L450.72,129.82 L451.74,130.46 L452.73,131.18 L453.70,131.97 L454.64,132.81 L455.55,133.69 L456.42,134.59 L457.25,135.49 L458.05,136.41 L458.82,137.34 L459.57,138.28 L460.29,139.22 L460.99,140.17 L461.67,141.12 L462.34,142.08 L462.99,143.04 L463.63,144.00 L464.27,144.96 L464.89,145.92 L465.52,146.88 L466.13,147.85 L466.74,148.81 L467.34,149.78 L467.94,150.74 L468.53,151.71 L469.11,152.68 L469.68,153.66 L470.25,154.64 L470.81,155.62 L471.37,156.61 L471.92,157.60 L472.46,158.60 L472.99,159.60 L473.52,160.61 L474.04,161.62 L474.56,162.64 L475.07,163.66 L475.58,164.69 L476.08,165.72 L476.57,166.76 L477.06,167.80 L477.54,168.84 L478.03,169.89 L478.50,170.94 L478.97,172.00 L479.44,173.06 L479.91,174.12 L480.37,175.18 L480.83,176.25 L481.29,177.32 L481.74,178.39 L482.19,179.47 L482.64,180.54 L483.09,181.62 L483.54,182.70 L483.98,183.78 L484.43,184.87 L484.87,185.95 L485.32,187.03 L485.76,188.12 L486.20,189.20 L486.64,190.29 L487.09,191.37 L487.53,192.46 L487.98,193.54 L488.42,194.63 L488.87,195.71 L489.32,196.79 L489.77,197.87 L490.22,198.95 L490.68,200.03 L491.14,201.11 L491.60,202.19 L492.06,203.26 L492.53,204.33 L493.00,205.40 L493.47,206.46 L493.95,207.53 L494.43,208.59 L494.92,209.64 L495.41,210.70 L495.91,211.75 L496.41,212.79 L496.92,213.84 L497.43,214.88 L497.95,215.91 L498.47,216.94 L499.00,217.96 L499.54,218.98 L500.08,220.00 L500.64,221.01 L501.19,222.01 L501.76,223.01 L502.34,224.00 L502.92,224.99 L503.51,225.97 L504.11,226.95 L504.72,227.91 L505.33,228.87 L505.96,229.83 L506.59,230.78 L507.24,231.72 L507.90,232.65 L508.56,233.57 L509.24,234.49 L509.92,235.40 L510.62,236.30 L511.33,237.19 L512.05,238.07 L512.78,238.95 L513.52,239.81 L514.28,240.67 L515.05,241.51 L515.83,242.35 L516.62,243.18 L517.43,244.00 L518.25,244.80 L519.08,245.60 L519.93,246.39 L520.79,247.16 L521.66,247.93 L522.55,248.68 L523.46,249.42 L524.38,250.15 L525.31,250.87 L526.26,251.58 L527.23,252.28 L528.21,252.96" fill="none" stroke="#e19f68" stroke-width="2.45" stroke-linejoin="round" stroke-linecap="round"/>
<path d="M122.8,300.2 L124.6,302.6 L126.2,304.4 L127.6,303.0 L129.5,301.6 L131.6,301.4" fill="none" stroke="#f8f842" stroke-width="2.6" stroke-linejoin="round" stroke-linecap="round"/>
<ellipse cx="126.3" cy="300.7" rx="1.5" ry="1.2" fill="#4040c8"/>
<rect x="74.8" y="14.2" width="454.1" height="365.3" fill="none" stroke="#000" stroke-width="2.8"/>
<line x1="74.8" y1="379.5" x2="74.8" y2="372.5" stroke="#000" stroke-width="2.4"/>
<line x1="150.5" y1="379.5" x2="150.5" y2="376.0" stroke="#000" stroke-width="2.4"/>
<line x1="226.2" y1="379.5" x2="226.2" y2="372.5" stroke="#000" stroke-width="2.4"/>
<line x1="301.9" y1="379.5" x2="301.9" y2="376.0" stroke="#000" stroke-width="2.4"/>
<line x1="377.5" y1="379.5" x2="377.5" y2="372.5" stroke="#000" stroke-width="2.4"/>
<line x1="453.2" y1="379.5" x2="453.2" y2="376.0" stroke="#000" stroke-width="2.4"/>
<line x1="528.9" y1="379.5" x2="528.9" y2="372.5" stroke="#000" stroke-width="2.4"/>
<line x1="74.8" y1="379.5" x2="81.8" y2="379.5" stroke="#000" stroke-width="2.4"/>
<line x1="74.8" y1="333.8" x2="78.3" y2="333.8" stroke="#000" stroke-width="2.4"/>
<line x1="74.8" y1="288.2" x2="81.8" y2="288.2" stroke="#000" stroke-width="2.4"/>
<line x1="74.8" y1="242.5" x2="78.3" y2="242.5" stroke="#000" stroke-width="2.4"/>
<line x1="74.8" y1="196.8" x2="81.8" y2="196.8" stroke="#000" stroke-width="2.4"/>
<line x1="74.8" y1="151.2" x2="78.3" y2="151.2" stroke="#000" stroke-width="2.4"/>
<line x1="74.8" y1="105.5" x2="81.8" y2="105.5" stroke="#000" stroke-width="2.4"/>
<line x1="74.8" y1="59.9" x2="78.3" y2="59.9" stroke="#000" stroke-width="2.4"/>
<line x1="74.8" y1="14.2" x2="81.8" y2="14.2" stroke="#000" stroke-width="2.4"/>
<line x1="404" y1="31.9" x2="447.5" y2="31.9" stroke="#4040c8" stroke-width="2.8"/>
<line x1="404" y1="59.5" x2="447.5" y2="59.5" stroke="#46e446" stroke-width="2.8"/>
<line x1="404" y1="87.2" x2="447.5" y2="87.2" stroke="#f8f842" stroke-width="2.8"/>
<line x1="404" y1="115.0" x2="447.5" y2="115.0" stroke="#e19f68" stroke-width="2.8"/>
</svg>
<svg width="550" height="458" style="position:absolute;left:0;top:0;font-family:&quot;Liberation Serif&quot;,serif;font-variant-ligatures:none;font-feature-settings:&quot;liga&quot; 0" fill="#111" stroke="#111" stroke-width="0.35"><text transform="translate(65.60,385.90) scale(1,1.0)" font-size="24" text-anchor="end" >0</text>
<text transform="translate(65.60,294.57) scale(1,1.0)" font-size="24" text-anchor="end" >20</text>
<text transform="translate(65.60,203.25) scale(1,1.0)" font-size="24" text-anchor="end" >40</text>
<text transform="translate(65.60,111.92) scale(1,1.0)" font-size="24" text-anchor="end" >60</text>
<text transform="translate(65.60,20.60) scale(1,1.0)" font-size="24" text-anchor="end" >80</text>
<text transform="translate(74.00,405.60) scale(1,1.0)" font-size="24" text-anchor="middle" >400</text>
<text transform="translate(225.37,405.60) scale(1,1.0)" font-size="24" text-anchor="middle" >500</text>
<text transform="translate(376.73,405.60) scale(1,1.0)" font-size="24" text-anchor="middle" >600</text>
<text transform="translate(528.10,405.60) scale(1,1.0)" font-size="24" text-anchor="middle" >700</text>
<text transform="translate(302.80,448.60) scale(1,1.03)" font-size="28" text-anchor="middle" >Wavelength (nm)</text>
<text transform="translate(24.4,196) rotate(-90) scale(1,1.0)" font-size="27.5" text-anchor="middle">Reflective (%)</text>
<text transform="translate(448.00,38.30) scale(1,1.09)" font-size="22" text-anchor="start" >190 nm</text>
<text transform="translate(448.00,65.90) scale(1,1.09)" font-size="22" text-anchor="start" >210 nm</text>
<text transform="translate(448.00,93.60) scale(1,1.09)" font-size="22" text-anchor="start" >240 nm</text>
<text transform="translate(448.00,121.40) scale(1,1.09)" font-size="22" text-anchor="start" >275 nm</text></svg>
</body></html>
